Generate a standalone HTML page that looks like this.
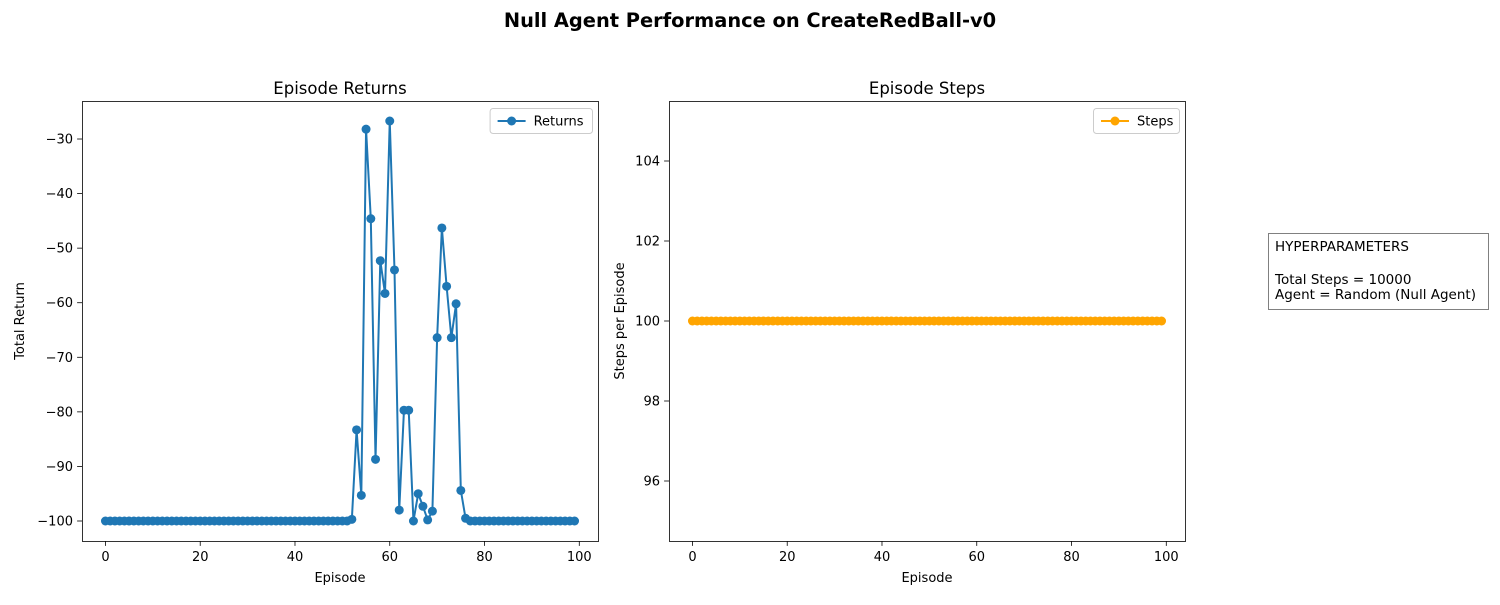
<!DOCTYPE html>
<html><head><meta charset="utf-8">
<style>
body{margin:0;background:#fff;}
svg text{font-family:"DejaVu Sans","Liberation Sans",sans-serif;fill:#000;}
</style></head>
<body>
<svg id="chart" width="1500" height="600" xmlns="http://www.w3.org/2000/svg">
<rect width="1500" height="600" fill="#fff"/>
<text x="750" y="27" text-anchor="middle" font-size="19.4" font-weight="bold">Null Agent Performance on CreateRedBall-v0</text>
<g>
<rect x="1268.5" y="233.5" width="220" height="76" fill="#fff" stroke="#808080" stroke-width="1"/>
<text x="1275" y="251" font-size="13.5">HYPERPARAMETERS</text>
<text x="1275" y="284" font-size="13.5">Total Steps = 10000</text>
<text x="1275" y="299" font-size="13.5">Agent = Random (Null Agent)</text>
</g>
</svg>
<script>
const returnsValues = (function(){
  const a = [];
  for (let i = 0; i < 52; i++) a.push(-100);
  return a.concat([-99.7,-83.3,-95.3,-28.2,-44.6,-88.7,-52.3,-58.3,-26.7,-54,-98,-79.7,-79.7,-100,-95,-97.3,-99.8,-98.2,-66.4,-46.3,-57,-66.4,-60.2,-94.4,-99.5,
  -100,-100,-100,-100,-100,-100,-100,-100,-100,-100,-100,-100,-100,-100,-100,-100,-100,-100,-100,-100,-100,-100,-100]);
})();
const stepsValues = new Array(100).fill(100);
const xTicks = [0,20,40,60,80,100];
const returnsYTicks = [-100,-90,-80,-70,-60,-50,-40,-30];
const stepsYTicks = [96,98,100,102,104];

const svg = document.getElementById('chart');
const NS = 'http://www.w3.org/2000/svg';
function el(tag, attrs, parent){
  const e = document.createElementNS(NS, tag);
  for (const k in attrs) e.setAttribute(k, attrs[k]);
  (parent||svg).appendChild(e);
  return e;
}
function panel(name, box, xlim, ylim, values, color, yTicks, yFmt, title, ylabel, legendLabel){
  const g = el('g', {});
  
  
  const sx = v => box.x + (v - xlim[0]) / (xlim[1] - xlim[0]) * box.w;
  const sy = v => box.y + box.h - (v - ylim[0]) / (ylim[1] - ylim[0]) * box.h;
  xTicks.forEach(t => {
    const x = sx(t);
    el('line', {x1:x, x2:x, y1:box.y+box.h, y2:box.y+box.h+4.9, stroke:'#000', 'stroke-width':0.8}, g);
    const tx = el('text', {x:x, y:box.y+box.h+20, 'text-anchor':'middle', 'font-size':13}, g);
    tx.textContent = t;
  });
  yTicks.forEach(t => {
    const y = sy(t);
    el('line', {x1:box.x-4.9, x2:box.x, y1:y, y2:y, stroke:'#000', 'stroke-width':0.8}, g);
    const tx = el('text', {x:box.x-9, y:y+4.5, 'text-anchor':'end', 'font-size':13}, g);
    tx.textContent = yFmt(t);
  });
  const pts = values.map((v,i) => sx(i).toFixed(2) + ',' + sy(v).toFixed(2)).join(' ');
  const line = el('polyline', {points:pts, fill:'none', stroke:color, 'stroke-width':2}, g);
  
  
  values.forEach((v,i) => {
    const c = el('circle', {cx:sx(i), cy:sy(v), r:4.5, fill:color}, g);
    
    
  });
  el('rect', {x:box.x+0.5, y:box.y+0.5, width:box.w, height:box.h, fill:'none', stroke:'#000', 'stroke-width':0.8}, g);
  const tt = el('text', {x:box.x+box.w/2, y:box.y-7, 'text-anchor':'middle', 'font-size':16.5}, g);
  tt.textContent = title;
  
  
  const xl = el('text', {x:box.x+box.w/2, y:box.y+box.h+41, 'text-anchor':'middle', 'font-size':13}, g);
  xl.textContent = 'Episode';
  
  
  const yx = box.x - (name === 'returns' ? 58 : 45);
  const yl = el('text', {x:yx, y:box.y+box.h/2, 'text-anchor':'middle', 'font-size':13, transform:'rotate(-90 '+yx+' '+(box.y+box.h/2)+')'}, g);
  yl.textContent = ylabel;
  
  
  const lg = el('g', {}, g);
  
  
  const lw = legendLabel.length * 8.2 + 45;
  const lx = box.x + box.w - lw - 6, ly = box.y + 7;
  el('rect', {x:lx+0.5, y:ly+0.5, width:lw, height:25, rx:3, fill:'#fff', stroke:'#ccc'}, lg);
  el('line', {x1:lx+8, x2:lx+36, y1:ly+13, y2:ly+13, stroke:color, 'stroke-width':2}, lg);
  el('circle', {cx:lx+22, cy:ly+13, r:4.5, fill:color}, lg);
  const lt = el('text', {x:lx+44, y:ly+17.5, 'font-size':13}, lg);
  lt.textContent = legendLabel;
}
panel('returns', {x:82, y:101, w:516, h:440}, [-4.95,103.95], [-103.665,-23.035], returnsValues, '#1f77b4', returnsYTicks, t => t < 0 ? '\u2212' + Math.abs(t) : t, 'Episode Returns', 'Total Return', 'Returns');
panel('steps', {x:669, y:101, w:516, h:440}, [-4.95,103.95], [94.5,105.5], stepsValues, '#ffa500', stepsYTicks, t => t, 'Episode Steps', 'Steps per Episode', 'Steps');
</script>
</body></html>
